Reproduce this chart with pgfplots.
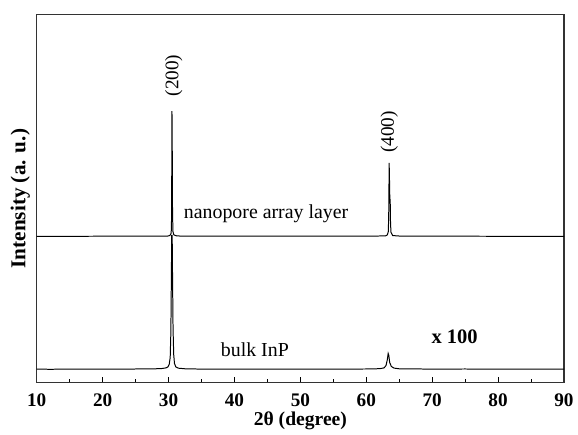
\documentclass[border=0pt]{standalone}
\usepackage{fontspec}
\setmainfont{Liberation Serif}
\usepackage{pgfplots}
\pgfplotsset{compat=1.18}

\begin{document}
\begin{tikzpicture}
\begin{axis}[
  width=398.25pt, height=277.5pt, scale only axis,
  xmin=10, xmax=90, ymin=0, ymax=370,
  xtick={10,20,...,90}, minor x tick num=1,
  ytick=\empty, xtick pos=bottom,
  tick align=inside, major tick length=3.75pt, minor tick length=2.2pt,
  axis line style={black!80, line width=0.8pt},
  every tick/.style={black, line width=0.8pt},
  /pgf/number format/assume math mode=true,
  xticklabel style={font=\fontsize{14.5}{16}\selectfont\bfseries, anchor=center, yshift=-13.5pt},
  xlabel={2θ (degree)},
  xlabel style={font=\fontsize{14.8}{17}\selectfont\bfseries, at={(axis description cs:0.5,0)}, anchor=center, yshift=-29pt},
  ylabel={Intensity (a. u.)},
  ylabel style={font=\fontsize{16}{18}\selectfont\bfseries, at={(axis description cs:0,0.5)}, anchor=center, rotate=0, yshift=12.5pt},
]
% bulk InP (x 100)
\addplot[black, line width=0.75pt] coordinates {
(10,13.3) (12,13.1) (15,13.3) (18,13.2) (20,13.3) (23,13.2) (25,13.4) (27,13.5) (28,13.6)
(29,13.9) (29.6,14.5) (29.9,15.5) (30.1,18) (30.25,25) (30.35,50) (30.42,100)
(30.48,148) (30.55,148) (30.6,110) (30.68,55) (30.78,28) (30.9,19) (31.1,15.5)
(31.5,14.2) (32.5,13.6) (35,13.3) (40,13.2) (45,13.3) (50,13.2) (55,13.3) (60,13.4)
(62,13.7) (62.7,14.5) (63.0,17) (63.2,23) (63.32,29) (63.42,27) (63.55,20) (63.8,16)
(64.2,14.3) (65,13.6) (70,13.3) (75,13.4) (80,13.2) (85,13.3) (90,13.2)
};
% nanopore array layer
\addplot[black, line width=0.75pt] coordinates {
(10,147) (20,147.1) (29.8,147.2) (30.2,147.8) (30.38,150) (30.44,155) (30.48,200)
(30.52,273) (30.56,235) (30.6,175) (30.66,152) (30.8,148.5) (31.2,147.5) (32,147.2)
(40,147.1) (50,147.1) (60,147.2) (62.9,147.4) (63.2,148.5) (63.35,152) (63.42,175)
(63.47,221) (63.52,205) (63.57,186) (63.63,183) (63.68,160) (63.75,151) (64,147.8)
(65,147.3) (75,147.1) (90,147)
};
\node[rotate=90, font=\fontsize{14.5}{16}\selectfont] at (axis cs:30.8,309) {(200)};
\node[rotate=90, font=\fontsize{14.5}{16}\selectfont] at (axis cs:63.5,252) {(400)};
\node[font=\fontsize{15}{17}\selectfont] at (axis cs:44.8,170) {nanopore array layer};
\node[font=\fontsize{15}{17}\selectfont] at (axis cs:43.1,33) {bulk InP};
\node[font=\fontsize{15.5}{17}\selectfont\bfseries] at (axis cs:73.4,46) {x 100};
\end{axis}
\path (current axis.south west) ++(-27.75pt,-33.75pt);
\path (current axis.north east) ++(7.5pt,11.25pt);
\end{tikzpicture}
\end{document}
